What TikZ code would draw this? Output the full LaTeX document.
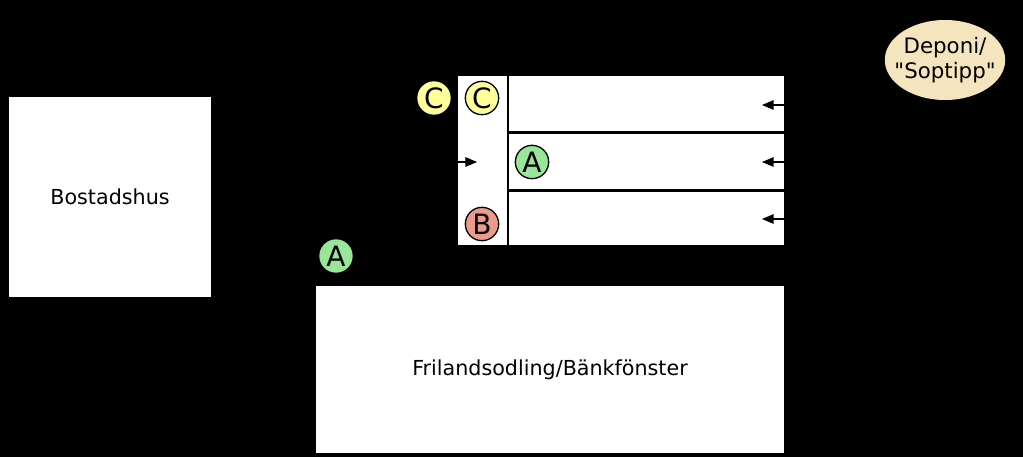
\documentclass[tikz,border=0pt]{standalone}
\usepackage{fontspec}
\setmainfont{DejaVu Sans}
\newfontfamily\rakfont{DejaVu Sans}[Ligatures=ResetAll]
\usetikzlibrary{arrows,shapes.geometric}
\definecolor{ffffaa}{rgb}{1,1,0.6}
\definecolor{aaeeaa}{rgb}{0.6,0.9,0.6}
\definecolor{eeaaaa}{rgb}{0.93,0.6,0.55}
\definecolor{eeddbb}{rgb}{0.96,0.9,0.75}
\tikzset{
	box/.style={fill=white,draw=none,inner sep=0pt,font=\fontsize{15.5}{18}\selectfont},
	mark circ/.style={circle,draw=black,line width=1pt,minimum size=25pt,inner sep=0pt,font=\fontsize{21}{21}\selectfont},
	flow/.style={->,>=triangle 45,line width=1pt}
}
\begin{document}
\begin{tikzpicture}[line cap=round,line join=round,x=0.75pt,y=-0.75pt]
	\fill[black] (0,0) rectangle (1023,457);
	\useasboundingbox (0,0) rectangle (1023,457);
	\node[box,minimum width=151.5pt,minimum height=150pt] (hus) at (110,197) {Bostadshus};
	\node[box,minimum width=351pt,minimum height=125pt] (fri) at (550,369.5) {Frilandsodling/Bänkfönster};
	\node[box,minimum width=36.75pt,minimum height=126.75pt] (kol) at (482.5,160.5) {};
	\node[box,minimum width=206.25pt,minimum height=41.25pt] (rad1) at (646.5,103.5) {};
	\node[box,minimum width=206.25pt,minimum height=41.25pt] (rad2) at (646.5,161.5) {};
	\node[box,minimum width=206.25pt,minimum height=39.75pt] (rad3) at (646.5,218.5) {};
	\node[mark circ,fill=ffffaa,draw=none] (c1) at (434,98) {C};
	\node[mark circ,fill=ffffaa] (c2) at (482,98) {C};
	\node[mark circ,fill=aaeeaa] (a1) at (532,162) {A};
	\node[mark circ,fill=eeaaaa] (b1) at (482,224) {B};
	\node[mark circ,fill=aaeeaa,draw=none] (a2) at (336,256) {A};
	\node[ellipse,fill=eeddbb,minimum height=60pt,align=center,font=\rakfont\fontsize{16}{19}\selectfont,inner xsep=-6pt,inner ysep=0pt] (dep) at (945,60) {Deponi/\\"Soptipp"};
	% pilar
	\coordinate (in1) at (784,105);
	\coordinate (in2) at (784,162);
	\coordinate (in3) at (784,219);
	\coordinate (inv) at (457,162);
	\draw[flow] (in1) -- ++(-22,0);
	\draw[flow] (in2) -- ++(-22,0);
	\draw[flow] (in3) -- ++(-22,0);
	\draw[flow] (inv) -- ++(20,0);
\end{tikzpicture}
\end{document}
